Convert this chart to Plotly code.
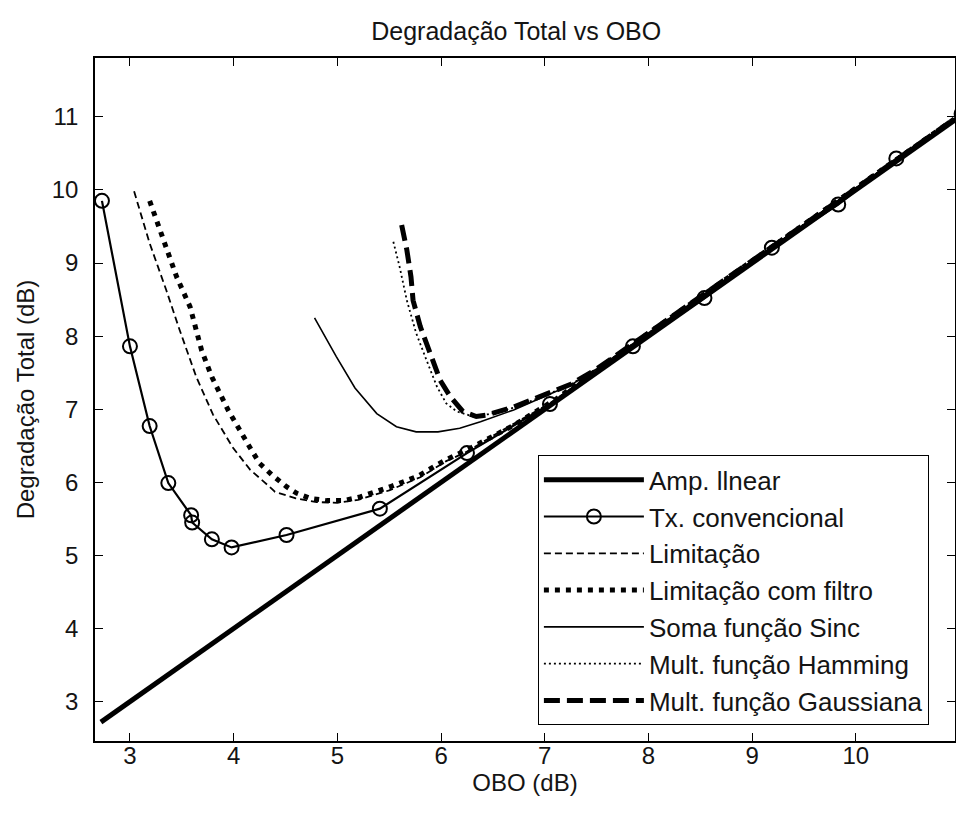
import plotly.graph_objects as go

# ---- data ----
amp_x = [2.72, 4.0, 5.0, 6.0, 7.0, 8.0, 9.0, 10.0, 10.96]
amp_y = [2.72, 4.0, 5.0, 6.0, 7.0, 8.0, 9.0, 10.0, 10.96]

tx_x = [2.73, 3.0, 3.19, 3.37, 3.59, 3.60, 3.79, 3.98, 4.51, 5.41, 6.25, 7.05, 7.85, 8.54, 9.19, 9.83, 10.39, 11.02]
tx_y = [9.85, 7.86, 6.77, 5.99, 5.55, 5.45, 5.22, 5.11, 5.28, 5.64, 6.40, 7.07, 7.86, 8.52, 9.21, 9.80, 10.43, 11.04]

lim_x = [3.04, 3.19, 3.35, 3.48, 3.64, 3.80, 3.99, 4.16, 4.29, 4.40, 4.60, 4.80, 5.00, 5.20, 5.50, 5.80, 6.05, 6.25, 6.60, 7.05, 7.50, 8.0, 9.0, 10.0, 11.0]
lim_y = [9.98, 9.27, 8.63, 8.08, 7.44, 6.93, 6.48, 6.17, 6.01, 5.87, 5.78, 5.73, 5.72, 5.76, 5.89, 6.07, 6.29, 6.42, 6.72, 7.08, 7.53, 8.03, 9.02, 10.02, 11.02]

limf_x = [3.19, 3.34, 3.45, 3.58, 3.69, 3.79, 3.95, 4.16, 4.25, 4.37, 4.51, 4.61, 4.74, 4.90, 5.06, 5.22, 5.38, 5.51, 5.77, 6.05, 6.30, 6.70, 7.10, 7.50, 8.0, 9.0, 10.0, 11.0]
limf_y = [9.85, 9.25, 8.81, 8.40, 7.81, 7.44, 6.98, 6.47, 6.26, 6.10, 5.94, 5.85, 5.78, 5.75, 5.75, 5.80, 5.87, 5.94, 6.08, 6.31, 6.48, 6.78, 7.13, 7.54, 8.04, 9.03, 10.02, 11.02]

sinc_x = [4.78, 4.99, 5.17, 5.38, 5.57, 5.76, 5.97, 6.18, 6.38, 6.70, 6.99, 7.25, 7.50, 8.0, 9.0, 10.0, 11.0]
sinc_y = [8.25, 7.72, 7.29, 6.94, 6.76, 6.69, 6.69, 6.74, 6.83, 6.99, 7.17, 7.33, 7.55, 8.04, 9.03, 10.02, 11.02]

ham_x = [5.54, 5.60, 5.67, 5.76, 5.86, 5.96, 6.05, 6.15, 6.31, 6.45, 6.70, 6.99, 7.25, 7.50, 8.0, 9.0, 10.0, 11.0]
ham_y = [9.29, 8.95, 8.49, 8.04, 7.67, 7.31, 7.08, 6.97, 6.90, 6.93, 7.02, 7.18, 7.34, 7.55, 8.04, 9.03, 10.02, 11.02]

gau_x = [5.62, 5.67, 5.71, 5.73, 5.80, 5.89, 5.99, 6.09, 6.21, 6.34, 6.44, 6.70, 6.99, 7.25, 7.50, 8.0, 9.0, 10.0, 11.0]
gau_y = [9.52, 9.18, 8.81, 8.49, 8.13, 7.76, 7.40, 7.17, 6.97, 6.90, 6.92, 7.03, 7.19, 7.34, 7.55, 8.04, 9.03, 10.02, 11.02]

x_ticks = [3, 4, 5, 6, 7, 8, 9, 10]
y_ticks = [3, 4, 5, 6, 7, 8, 9, 10, 11]

names = ["Amp. llnear", "Tx. convencional", "Limitação", "Limitação com filtro",
         "Soma função Sinc", "Mult. função Hamming", "Mult. função Gaussiana"]

FONT = "Liberation Sans, Arial, sans-serif"
TXT = "#141414"
FS = 24

fig = go.Figure()

def add(x, y, name, width, dash="solid", markers=False):
    fig.add_trace(go.Scatter(
        x=x, y=y, name=name, legendgroup=name,
        mode="lines+markers" if markers else "lines",
        line=dict(color="black", width=width, dash=dash),
        marker=dict(symbol="circle-open", size=14, color="black",
                    line=dict(width=2, color="black")) if markers else None,
    ))

add(amp_x, amp_y, names[0], 5)
add(tx_x, tx_y, names[1], 2.2, markers=True)
add(lim_x, lim_y, names[2], 1.8, dash="7px,4px")
add(limf_x, limf_y, names[3], 5, dash="5px,6px")
add(sinc_x, sinc_y, names[4], 1.6)
add(ham_x, ham_y, names[5], 1.8, dash="2px,3px")
add(gau_x, gau_y, names[6], 5, dash="16px,7px")

fig.update_layout(
    width=956, height=813,
    margin=dict(l=95, r=1, t=58, b=72, autoexpand=False),
    paper_bgcolor="white", plot_bgcolor="white",
    font=dict(family=FONT, size=FS, color=TXT),
    title=dict(text="Degradação Total vs OBO", x=0.54, xanchor="center",
               y=1 - 31 / 813, yanchor="middle",
               font=dict(family=FONT, size=25, color=TXT)),
    showlegend=True,
    legend=dict(x=0.515, y=0.023, xanchor="left", yanchor="bottom",
                bgcolor="white", bordercolor="black", borderwidth=1,
                font=dict(family=FONT, size=26, color=TXT),
                itemwidth=100, tracegroupgap=0, traceorder="grouped"),
)

fig.update_xaxes(
    range=[2.663, 10.956], tickvals=x_ticks, ticktext=[str(v) for v in x_ticks],
    ticks="inside", ticklen=8, tickwidth=1, tickcolor="black",
    showline=True, linecolor="black", linewidth=1.5, mirror="ticks",
    showgrid=False, zeroline=False, automargin=False,
    ticklabelstandoff=-8,
    title=dict(text="OBO (dB)", font=dict(family=FONT, size=FS, color=TXT), standoff=0),
    tickfont=dict(family=FONT, size=FS, color=TXT),
)
fig.update_yaxes(
    range=[2.462, 11.804], tickvals=y_ticks, ticktext=[str(v) for v in y_ticks],
    ticks="inside", ticklen=8, tickwidth=1, tickcolor="black",
    showline=True, linecolor="black", linewidth=1.5, mirror="ticks",
    showgrid=False, zeroline=False, automargin=False,
    ticklabelstandoff=10,
    title=dict(text="Degradação Total (dB)", font=dict(family=FONT, size=FS, color=TXT), standoff=10),
    tickfont=dict(family=FONT, size=FS, color=TXT),
)

fig.write_html("out.html",
               config={"displayModeBar": False},
               post_script="document.body.style.margin='0';document.body.style.overflow='hidden';")
